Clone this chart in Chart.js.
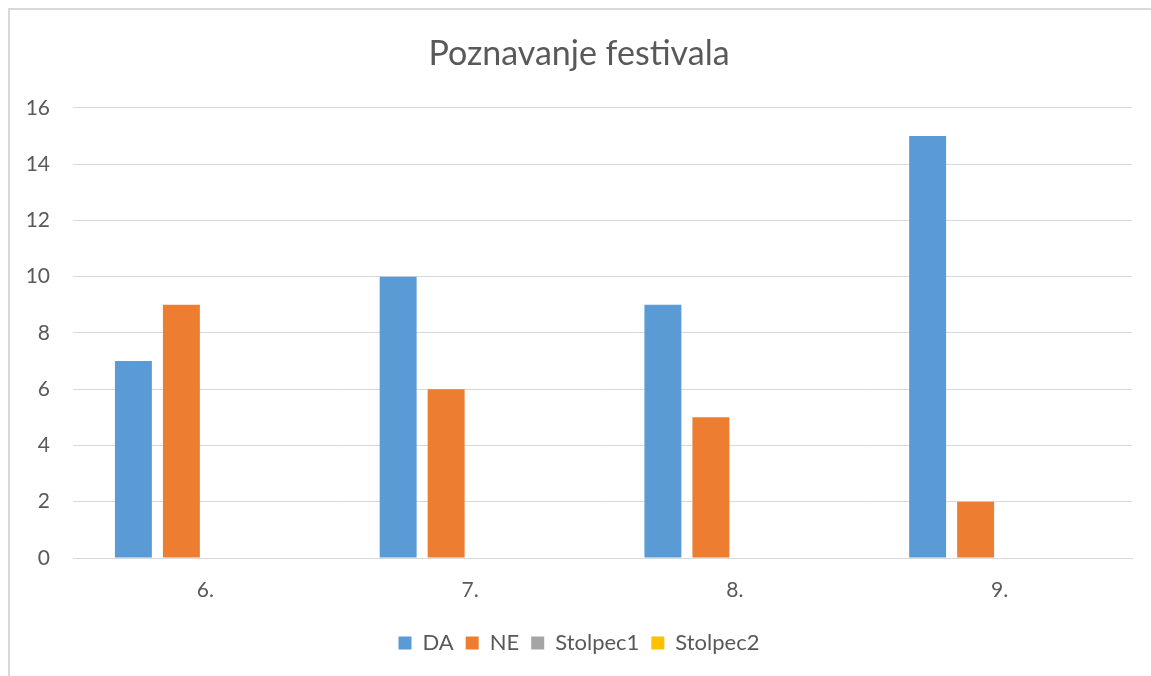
<!DOCTYPE html>
<html>
<head>
<meta charset="utf-8">
<script src="https://cdn.jsdelivr.net/npm/chart.js@4/dist/chart.umd.min.js"></script>
<style>
  html, body { margin: 0; padding: 0; background: #fff; }
  #wrap { position: relative; width: 1151px; height: 676px; overflow: hidden; }
  #frame { position: absolute; left: 8px; top: 8px; width: 1400px; height: 900px;
           border-left: 2px solid #d9d9d9; border-top: 2px solid #d9d9d9; }
  canvas { position: absolute; left: 0; top: 0; }
</style>
</head>
<body>
<div id="wrap">
  <div id="frame"></div>
  <canvas id="c" width="1151" height="676"></canvas>
</div>
<script>
const categories = ["6.", "7.", "8.", "9."];
const seriesDA = [7, 10, 9, 15];
const seriesNE = [9, 6, 5, 2];
const seriesStolpec1 = [null, null, null, null];
const seriesStolpec2 = [null, null, null, null];
const yTicks = [0, 2, 4, 6, 8, 10, 12, 14, 16];

const FONT = "Lato, 'Open Sans', sans-serif";
const TXT = "#595959";

new Chart(document.getElementById("c"), {
  type: "bar",
  data: {
    labels: categories,
    datasets: [
      { label: "DA", data: seriesDA, backgroundColor: "#5B9BD5" },
      { label: "NE", data: seriesNE, backgroundColor: "#ED7D31" },
      { label: "Stolpec1", data: seriesStolpec1, backgroundColor: "#A5A5A5" },
      { label: "Stolpec2", data: seriesStolpec2, backgroundColor: "#FFC000" }
    ]
  },
  options: {
    responsive: false,
    animation: false,
    datasets: { bar: { categoryPercentage: 0.725, barPercentage: 0.77 } },
    layout: { padding: { left: 26, right: 19, top: 0, bottom: 12 } },
    plugins: {
      title: {
        display: true,
        text: "Poznavanje festivala",
        color: TXT,
        font: { family: FONT, size: 34, weight: "normal" },
        padding: { top: 34, bottom: 33 }
      },
      legend: {
        position: "bottom",
        labels: {
          color: TXT,
          font: { family: FONT, size: 22 },
          boxWidth: 13,
          boxHeight: 13,
          padding: 12
        }
      },
      tooltip: { enabled: false }
    },
    scales: {
      x: {
        grid: { display: false, drawTicks: false },
        border: { display: true, color: "#d9d9d9", width: 1 },
        ticks: { color: TXT, font: { family: FONT, size: 21 }, padding: 20 },
        afterFit: (s) => { s.height = 62; }
      },
      y: {
        min: 0, max: 16,
        afterBuildTicks: (s) => { s.ticks = yTicks.map(v => ({ value: v })); },
        grid: { color: "#d9d9d9", drawTicks: false },
        border: { display: false },
        ticks: { color: TXT, font: { family: FONT, size: 21 }, padding: 23 },
        afterFit: (s) => { s.width = 47; }
      }
    }
  }
});
</script>
</body>
</html>
